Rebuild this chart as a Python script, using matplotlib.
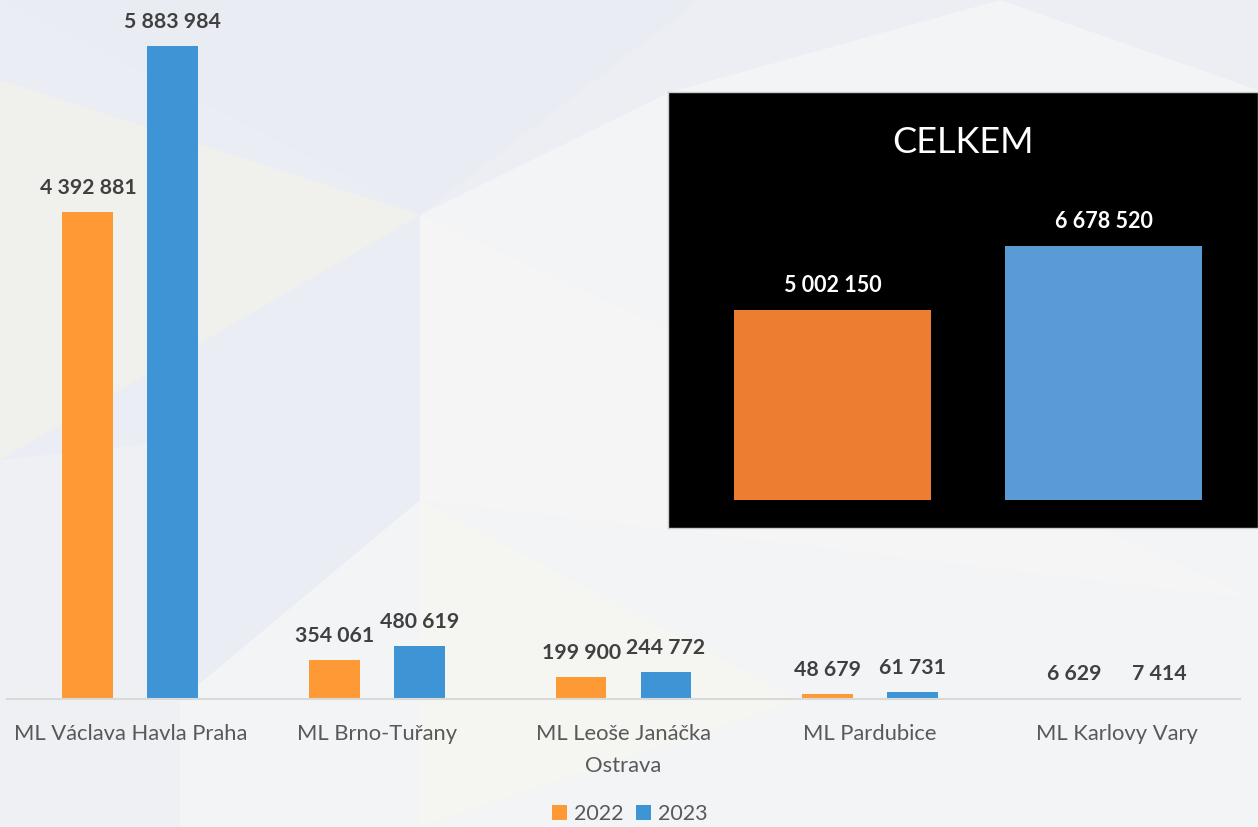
import numpy as np
import matplotlib.pyplot as plt
from matplotlib.patches import Polygon

plt.rcParams['font.family'] = ['Lato', 'DejaVu Sans']

letiste = ['ML Václava Havla Praha', 'ML Brno-Tuřany', 'ML Leoše Janáčka\nOstrava',
           'ML Pardubice', 'ML Karlovy Vary']
cestujici_2022 = [4392881, 354061, 199900, 48679, 6629]
cestujici_2023 = [5883984, 480619, 244772, 61731, 7414]
roky = ['2022', '2023']
celkem = [5002150, 6678520]

W, H = 1258, 827
fig = plt.figure(figsize=(W / 100, H / 100), dpi=100)
fig.patch.set_facecolor('#f3f4f6')

# pozadi - jemne trojuhelniky
bg = fig.add_axes([0, 0, 1, 1], zorder=-10)
bg.set_xlim(0, W)
bg.set_ylim(H, 0)
bg.axis('off')
tri = [
    ([(0, 0), (700, 0), (420, 215)], '#e9ecf3'),
    ([(0, 0), (0, 620), (420, 215)], '#eaedf3'),
    ([(0, 80), (420, 215), (0, 460)], '#f0f1ed'),
    ([(420, 215), (700, 0), (1000, 0), (670, 92)], '#eceef4'),
    ([(420, 215), (1258, 600), (420, 500)], '#f5f5f5'),
    ([(180, 440), (420, 215), (420, 500), (180, 700)], '#eaedf3'),
    ([(0, 460), (180, 440), (180, 827), (0, 827)], '#eff0f3'),
    ([(420, 500), (800, 700), (420, 827)], '#f5f5f1'),
    ([(1000, 0), (1258, 0), (1258, 90)], '#eceef3'),
]
for pts, c in tri:
    bg.add_patch(Polygon(pts, closed=True, facecolor=c, edgecolor='none'))

# hlavni graf
ax = fig.add_axes([7 / W, (H - 699) / H, 1233 / W, 699 / H])
ax.patch.set_alpha(0)
x = np.arange(len(letiste))
w = 0.206
off = 0.172
b1 = ax.bar(x - off, cestujici_2022, w, color='#fd9a36', label=roky[0])
b2 = ax.bar(x + off, cestujici_2023, w, color='#3f94d6', label=roky[1])
ax.set_xlim(-0.5, len(letiste) - 0.5)
ax.set_ylim(0, 6300000)
for bars in (b1, b2):
    for r in bars:
        v = r.get_height()
        ax.annotate(f'{v:,}'.replace(',', ' '), (r.get_x() + r.get_width() / 2, v),
                    xytext=(0, 14), textcoords='offset pixels', ha='center', va='bottom',
                    fontsize=15.3, fontweight='bold', color='#404040')
for s in ['top', 'right', 'left']:
    ax.spines[s].set_visible(False)
ax.spines['bottom'].set_color('#d9d9d9')
ax.spines['bottom'].set_linewidth(1.5)
ax.set_yticks([])
ax.set_xticks(x)
ax.set_xticklabels(letiste, fontsize=15.8, color='#595959', linespacing=1.75)
ax.tick_params(axis='x', length=0, pad=18)
ax.legend(loc='upper center', bbox_to_anchor=(0.505, -0.122), ncol=2, frameon=False,
          fontsize=15.5, labelcolor='#595959', handlelength=0.7, handleheight=0.7,
          handletextpad=0.3, columnspacing=0.6)

# vlozeny graf CELKEM
ax2 = fig.add_axes([668 / W, (H - 528) / H, 590 / W, 436 / H])
ax2.set_facecolor('black')
bars2 = ax2.bar([0, 1], celkem, 0.727, color=['#ed7d31', '#5b9bd5'])
ax2.set_xlim(-0.607, 1.57)
ax2.set_ylim(-737000, 10740000)
for r in bars2:
    v = r.get_height()
    ax2.annotate(f'{v:,}'.replace(',', ' '), (r.get_x() + r.get_width() / 2, v),
                 xytext=(0, 14), textcoords='offset pixels', ha='center', va='bottom',
                 fontsize=15.5, fontweight='bold', color='white')
ax2.text(0.5, 0.885, 'CELKEM', transform=ax2.transAxes, ha='center', va='center',
         fontsize=26, color='white')
ax2.set_xticks([])
ax2.set_yticks([])
for s in ax2.spines.values():
    s.set_color('#cccccc')
    s.set_linewidth(1)

fig.savefig('out.png', dpi=100, facecolor=fig.get_facecolor())
